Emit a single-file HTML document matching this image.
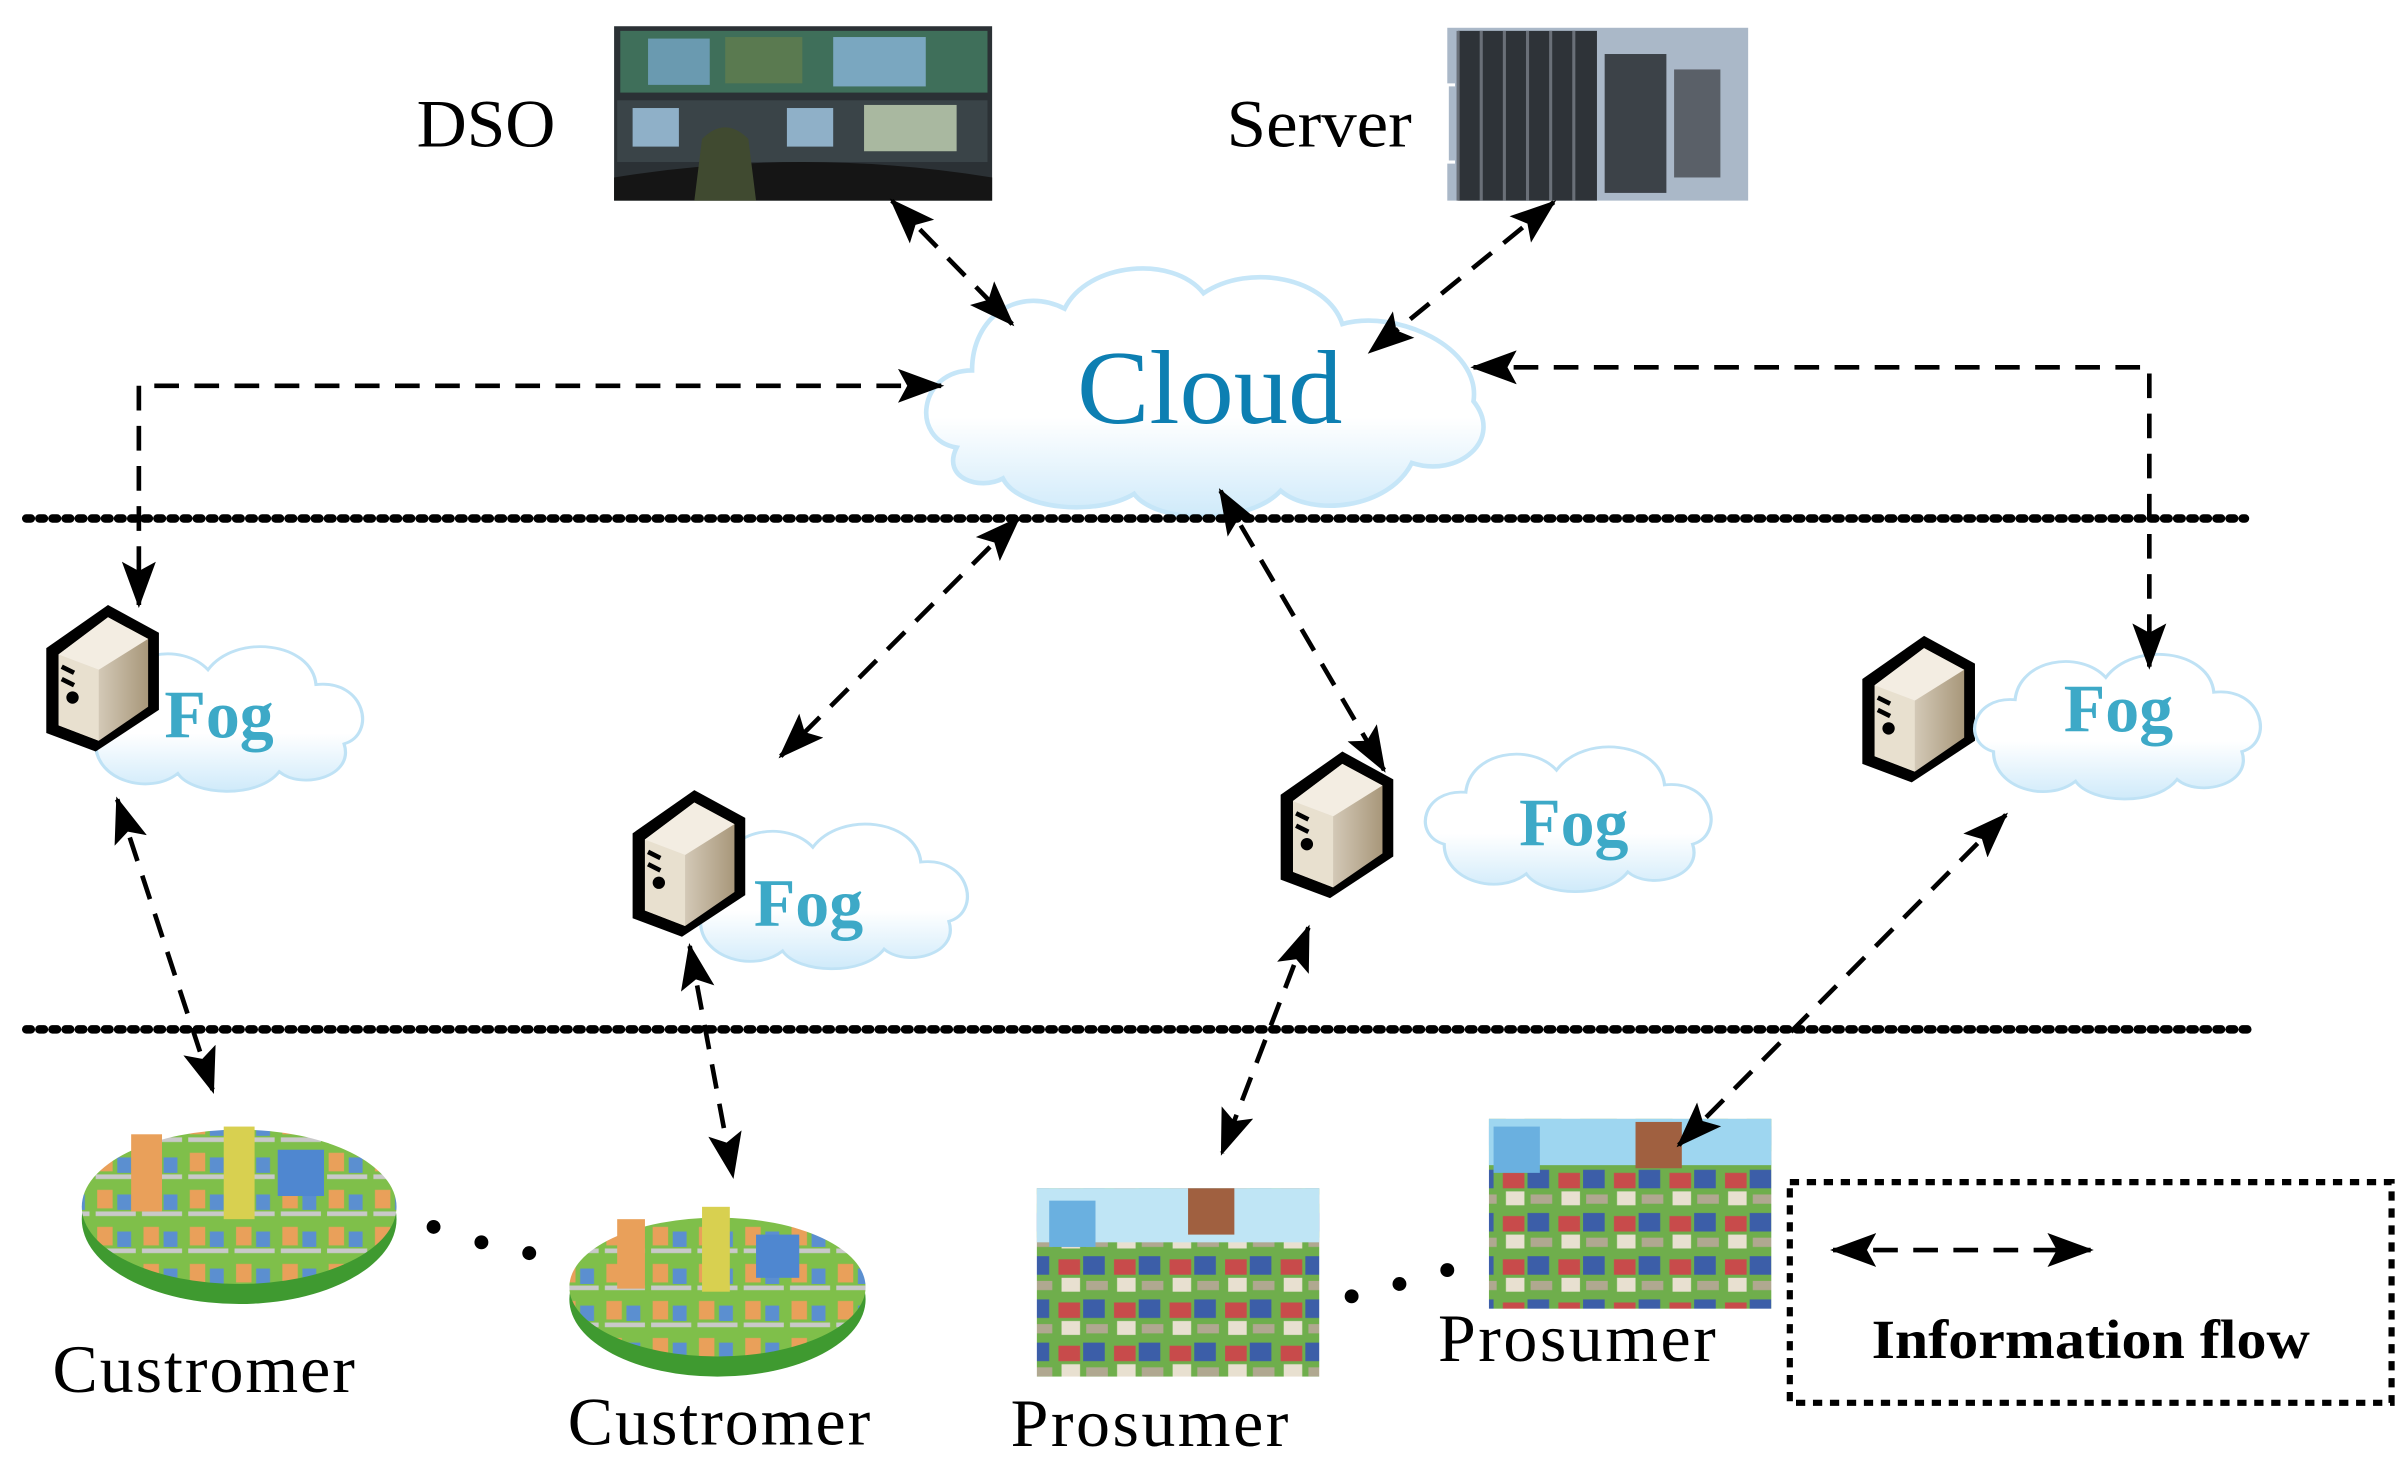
<!DOCTYPE html>
<html><head><meta charset="utf-8"><style>
html,body{margin:0;padding:0;background:#fff}
svg{display:block}
</style></head><body>
<svg width="2407" height="1463" viewBox="0 0 1560 948" preserveAspectRatio="none" xmlns="http://www.w3.org/2000/svg">
<defs>
<marker id="ah" markerWidth="30" markerHeight="22" refX="28" refY="11" orient="auto-start-reverse" markerUnits="userSpaceOnUse" viewBox="0 0 30 22"><path d="M0,0 L30,11 L0,22 L6,11 z" fill="#000"/></marker>
<linearGradient id="srv" x1="0" x2="1"><stop offset="0" stop-color="#f6f1e8"/><stop offset="1" stop-color="#a8977a"/></linearGradient>
<linearGradient id="cl" x1="0" y1="0" x2="0" y2="1"><stop offset="0.6" stop-color="#fff"/><stop offset="1" stop-color="#cfeafa"/></linearGradient>
<g id="server">
<path d="M0,28 L40,0 L73,18 L73,68 L32,95 L0,83 Z" fill="#000"/>
<path d="M8,32 L40,8 L66,22 L66,66 L34,88 L8,78 Z" fill="url(#srv)"/>
<path d="M8,32 L34,42 L34,88 L8,78 Z" fill="#e8e0cf"/>
<path d="M8,32 L40,8 L66,22 L34,42 Z" fill="#f3ede2"/>
<circle cx="17" cy="60" r="4" fill="#000"/>
<path d="M10,40 l8,4 M10,48 l8,4" stroke="#000" stroke-width="3"/>
</g>
<g id="fogcloud">
<path d="M10,60 C-5,55 0,30 20,32 C22,10 50,5 62,20 C75,0 110,5 112,28 C135,25 140,55 125,60 C130,78 105,85 95,75 C85,90 55,88 48,76 C35,88 10,80 10,60 Z" fill="url(#cl)" stroke="#bfe2f5" stroke-width="1.5"/>
</g>
<pattern id="city" width="30" height="24" patternUnits="userSpaceOnUse"><rect width="30" height="24" fill="#7fbf4a"/><rect x="3" y="3" width="10" height="12" fill="#e9a05a"/><rect x="16" y="6" width="9" height="10" fill="#5b8fd0"/><rect x="2" y="17" width="26" height="3" fill="#c9c9c9"/></pattern>
<pattern id="town" width="36" height="28" patternUnits="userSpaceOnUse"><rect width="36" height="28" fill="#6fae4c"/><rect x="2" y="4" width="14" height="10" fill="#c84b4b"/><rect x="18" y="2" width="14" height="12" fill="#3c5ea8"/><rect x="4" y="16" width="12" height="9" fill="#e8e0d0"/><rect x="20" y="18" width="14" height="6" fill="#b0a890"/></pattern>
</defs>
<rect width="1560" height="948" fill="#fff"/>

<rect x="398" y="17" width="245" height="113" fill="#2b3135"/>
<rect x="402" y="20" width="238" height="40" fill="#3f6f5a"/>
<rect x="420" y="25" width="40" height="30" fill="#6a9ab0"/><rect x="470" y="24" width="50" height="30" fill="#5a7a50"/><rect x="540" y="24" width="60" height="32" fill="#7aa7c0"/>
<rect x="400" y="65" width="240" height="40" fill="#3a4448"/>
<rect x="410" y="70" width="30" height="25" fill="#8fb0c8"/><rect x="510" y="70" width="30" height="25" fill="#8fb0c8"/><rect x="560" y="68" width="60" height="30" fill="#a9b8a0"/>
<path d="M398,115 Q520,95 643,115 L643,130 L398,130Z" fill="#151515"/>
<path d="M455,90 q15,-15 30,0 l5,40 h-40z" fill="#404a30"/>
<rect x="938" y="18" width="195" height="112" fill="#aab8c8"/>
<rect x="945" y="20" width="90" height="110" fill="#2e3338"/>
<rect x="1040" y="35" width="40" height="90" fill="#3c4248"/>
<rect x="1085" y="45" width="30" height="70" fill="#5a6068"/>
<path d="M945,20 v110 M960,20 v110 M975,20 v110 M990,20 v110 M1005,20 v110 M1020,20 v110" stroke="#6a7078" stroke-width="2"/>
<path d="M943,55 h-5 v50 h5" stroke="#fff" stroke-width="2" fill="none"/>

<text x="315" y="95" font-family="Liberation Serif" font-size="44" text-anchor="middle" textLength="90" lengthAdjust="spacingAndGlyphs">DSO</text>
<text x="855" y="95" font-family="Liberation Serif" font-size="44" text-anchor="middle" textLength="120" lengthAdjust="spacingAndGlyphs">Server</text>

<path d="M620,290 C590,285 595,240 630,240 C630,205 660,185 690,200 C705,170 760,165 780,190 C810,170 860,180 870,210 C905,200 960,225 955,260 C975,285 945,310 915,300 C900,330 850,335 830,318 C810,340 750,340 735,320 C710,335 660,330 650,310 C635,318 610,310 620,290 Z" fill="url(#cl)" stroke="#c6e6f8" stroke-width="3"/>
<text x="784" y="274" font-family="Liberation Serif" font-size="68" fill="#0d7fb2" text-anchor="middle" textLength="172" lengthAdjust="spacingAndGlyphs">Cloud</text>

<line x1="17" y1="336" x2="1455" y2="336" stroke="#000" stroke-width="5.5" stroke-dasharray="3,5.5" stroke-linecap="round"/>
<line x1="17" y1="667" x2="1458" y2="667" stroke="#000" stroke-width="5.5" stroke-dasharray="3,5.5" stroke-linecap="round"/>

<use href="#fogcloud" transform="translate(48,410) scale(1.4,1.2)"/>
<use href="#server" x="30" y="392"/>
<text x="142" y="478" font-family="Liberation Serif" font-size="44" font-weight="bold" fill="#3da9c7" text-anchor="middle">Fog</text>

<use href="#fogcloud" transform="translate(440,525) scale(1.4,1.2)"/>
<use href="#server" x="410" y="512"/>
<text x="524" y="600" font-family="Liberation Serif" font-size="44" font-weight="bold" fill="#3da9c7" text-anchor="middle">Fog</text>

<use href="#server" x="830" y="487"/>
<use href="#fogcloud" transform="translate(922,475) scale(1.4,1.2)"/>
<text x="1020" y="548" font-family="Liberation Serif" font-size="44" font-weight="bold" fill="#3da9c7" text-anchor="middle">Fog</text>

<use href="#server" x="1207" y="412"/>
<use href="#fogcloud" transform="translate(1278,415) scale(1.4,1.2)"/>
<text x="1373" y="474" font-family="Liberation Serif" font-size="44" font-weight="bold" fill="#3da9c7" text-anchor="middle">Fog</text>

<ellipse cx="155" cy="790" rx="102" ry="55" fill="#3f9a30"/>
<ellipse cx="155" cy="782" rx="102" ry="50" fill="url(#city)"/>
<rect x="85" y="735" width="20" height="50" fill="#e9a05a"/><rect x="145" y="730" width="20" height="60" fill="#d8d050"/><rect x="180" y="745" width="30" height="30" fill="#4f87d0"/>
<ellipse cx="465" cy="842" rx="96" ry="50" fill="#3f9a30"/>
<ellipse cx="465" cy="834" rx="96" ry="45" fill="url(#city)"/>
<rect x="400" y="790" width="18" height="45" fill="#e9a05a"/><rect x="455" y="782" width="18" height="55" fill="#d8d050"/><rect x="490" y="800" width="28" height="28" fill="#4f87d0"/>

<rect x="672" y="770" width="183" height="122" fill="url(#town)"/>
<rect x="672" y="770" width="183" height="35" fill="#bfe5f5"/>
<rect x="680" y="778" width="30" height="30" fill="#6ab0e0"/><rect x="770" y="770" width="30" height="30" fill="#a06040"/>
<rect x="965" y="725" width="183" height="123" fill="url(#town)"/>
<rect x="965" y="725" width="183" height="30" fill="#9ed6f0"/>
<rect x="968" y="730" width="30" height="30" fill="#6ab0e0"/><rect x="1060" y="727" width="30" height="30" fill="#a06040"/>

<g stroke="#000" stroke-width="3" stroke-dasharray="16,10" fill="none" marker-start="url(#ah)" marker-end="url(#ah)">
<line x1="578" y1="130" x2="656" y2="210"/>
<line x1="1007" y1="131" x2="888" y2="228"/>
<path d="M610,250 H90 V392"/>
<path d="M955,238 H1393 V432"/>
<line x1="660" y1="336" x2="506" y2="490"/>
<line x1="791" y1="318" x2="897" y2="499"/>
<line x1="76" y1="518" x2="138" y2="707"/>
<line x1="447" y1="613" x2="475" y2="762"/>
<line x1="848" y1="601" x2="792" y2="747"/>
<line x1="1300" y1="528" x2="1088" y2="742"/>
<line x1="1188" y1="810" x2="1355" y2="810"/>
</g>

<g fill="#000"><circle cx="281" cy="795" r="4.5"/><circle cx="312" cy="805" r="4.5"/><circle cx="343" cy="812" r="4.5"/>
<circle cx="876" cy="840" r="4.5"/><circle cx="907" cy="832" r="4.5"/><circle cx="938" cy="823" r="4.5"/></g>

<g font-family="Liberation Serif" font-size="44" text-anchor="middle" lengthAdjust="spacingAndGlyphs">
<text x="132" y="902" textLength="196">Custromer</text>
<text x="466" y="936" textLength="196">Custromer</text>
<text x="745" y="937" textLength="180">Prosumer</text>
<text x="1022" y="882" textLength="180">Prosumer</text>
</g>

<rect x="1160" y="766" width="390" height="143" fill="none" stroke="#000" stroke-width="4" stroke-dasharray="6,5"/>
<text x="1355" y="880" font-family="Liberation Serif" font-size="36" font-weight="bold" text-anchor="middle" textLength="284" lengthAdjust="spacingAndGlyphs">Information flow</text>
</svg>
</body></html>
